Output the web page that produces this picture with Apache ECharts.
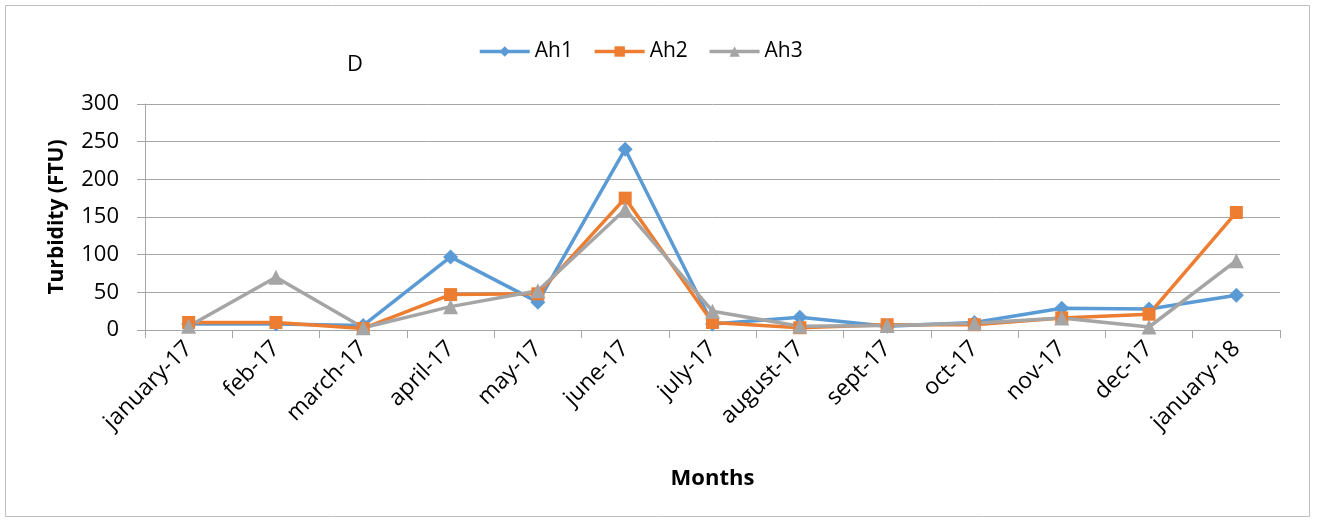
<!DOCTYPE html>
<html>
<head>
<meta charset="utf-8">
<script src="https://cdn.jsdelivr.net/npm/echarts@6/dist/echarts.min.js"></script>
<style>
  html, body { margin: 0; padding: 0; background: #fff; }
  #main { width: 1317px; height: 522px; }
</style>
</head>
<body>
<div id="main"></div>
<script>
// months on the x axis
var months = ['january-17', 'feb-17', 'march-17', 'april-17', 'may-17', 'june-17', 'july-17',
    'august-17', 'sept-17', 'oct-17', 'nov-17', 'dec-17', 'january-18'];

// turbidity readings (FTU)
var ah1 = [8, 8, 6, 97, 37, 240, 8, 17, 5, 10, 29, 28, 46];
var ah2 = [10, 10, 2, 47, 48, 175, 10, 3, 7, 7, 16, 21, 156];
var ah3 = [5, 70, 3, 31, 52, 160, 25, 5, 6, 9, 16, 4, 92];

var yTicks = [0, 50, 100, 150, 200, 250, 300];

var font = '"Open Sans", sans-serif';

var myChart = echarts.init(document.getElementById('main'));

function line(name, data, color, symbol, size) {
    return {
        name: name,
        type: 'line',
        data: data,
        symbol: symbol,
        symbolSize: size,
        lineStyle: { color: color, width: 3.5 },
        itemStyle: { color: color },
        animation: false
    };
}

var option = {
    backgroundColor: '#fff',
    textStyle: { fontFamily: font },
    title: {
        text: 'D',
        left: 342,
        top: 49,
        textStyle: { fontSize: 22, fontWeight: 'normal', color: '#000', fontFamily: font }
    },
    legend: {
        top: 36,
        left: 473,
        itemWidth: 50,
        itemHeight: 13,
        itemGap: 20,
        lineStyle: { width: 3.5 },
        textStyle: { fontSize: 21, color: '#000', fontFamily: font },
        data: ['Ah1', 'Ah2', 'Ah3']
    },
    grid: { left: 145, right: 37, top: 104, bottom: 192 },
    xAxis: {
        type: 'category',
        data: months,
        name: 'Months',
        nameLocation: 'middle',
        nameGap: 138,
        nameTextStyle: { fontSize: 22, fontWeight: 'bold', color: '#000', fontFamily: font },
        axisLine: { lineStyle: { color: '#a6a6a6' } },
        axisTick: { show: true, length: 8, lineStyle: { color: '#a6a6a6' } },
        axisLabel: { rotate: 45, fontSize: 23, color: '#000', margin: 15, fontFamily: font }
    },
    yAxis: {
        type: 'value',
        min: yTicks[0],
        max: yTicks[yTicks.length - 1],
        interval: 50,
        name: 'Turbidity (FTU)',
        nameLocation: 'middle',
        nameGap: 77,
        nameTextStyle: { fontSize: 21, fontWeight: 'bold', color: '#000', fontFamily: font },
        axisLine: { show: true, lineStyle: { color: '#a6a6a6' } },
        axisTick: { show: true, length: 8, lineStyle: { color: '#a6a6a6' } },
        axisLabel: { fontSize: 22, color: '#000', margin: 26, fontFamily: font },
        splitLine: { lineStyle: { color: '#a6a6a6', width: 1 } }
    },
    series: [
        line('Ah1', ah1, '#5b9bd5', 'diamond', 15),
        line('Ah2', ah2, '#ed7d31', 'rect', 13),
        line('Ah3', ah3, '#a5a5a5', 'triangle', 15)
    ],
    graphic: [{
        type: 'rect',
        shape: { x: 5.5, y: 5.5, width: 1304, height: 511 },
        style: { fill: null, stroke: '#bfbfbf', lineWidth: 1 },
        silent: true
    }]
};

myChart.setOption(option);
</script>
</body>
</html>
